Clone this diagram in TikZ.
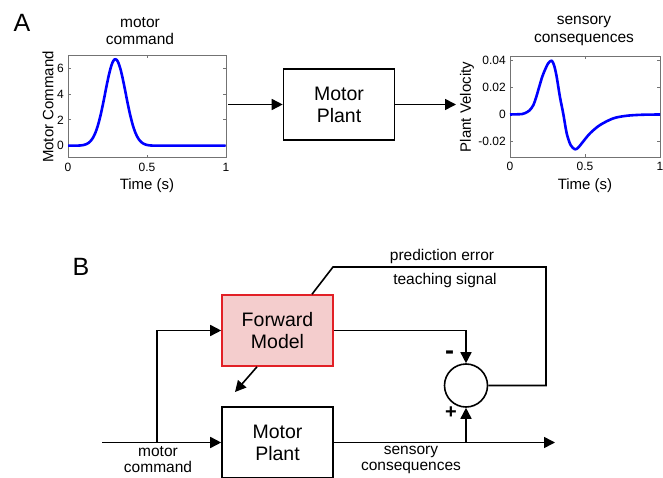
\documentclass[tikz,border=0pt]{standalone}
\usepackage{fontspec}
\setmainfont{Liberation Sans}
\usetikzlibrary{arrows.meta,positioning,calc}

\definecolor{fwdred}{RGB}{226,32,38}
\definecolor{fwdpink}{RGB}{244,205,205}

\tikzset{
    blk/.style={draw, line width=1.6pt, minimum width=111pt, minimum height=71pt,
        inner sep=0pt, align=center, font=\fontsize{19.5}{22}\selectfont},
    fwdblk/.style={blk, draw=fwdred, fill=fwdpink},
    sig/.style={line width=1.6pt},
    arr/.style={sig, -{Triangle[length=11pt,width=11pt]}},
    frame/.style={draw=black!55, line width=0.8pt},
    curve/.style={blue, line width=2.6pt, line join=round},
    ticklbl/.style={font=\fontsize{12}{14}\selectfont, inner sep=1pt},
    axlbl/.style={font=\fontsize{15}{17}\selectfont},
    ttl/.style={align=center, font=\fontsize{15.5}{17.5}\selectfont},
    lbl/.style={align=center, font=\fontsize{15.5}{16}\selectfont},
    sgn/.style={font=\fontsize{20}{22}\selectfont\bfseries, inner sep=0pt},
    panel/.style={font=\fontsize{25}{28}\selectfont},
}

\begin{document}
\begin{tikzpicture}[x=1pt, y=1pt]
    \useasboundingbox (0,0) rectangle (663,477);

    % ==================== A: 上半部分 ====================
    \node[panel] (labA) at (22,454) {A};

    % 左图: motor command
    \begin{scope}[shift={(68,331.3)}, x=158pt, y=12.9pt]
        \draw[frame] (0,-0.92) rectangle (1,7);
        \foreach \t in {0,0.5,1} {
            \draw[frame] (\t,-0.92) -- ++(0,3pt);
            \draw[frame] (\t,7) -- ++(0,-3pt);
            \node[ticklbl, below=4pt] (xl\t) at (\t,-0.92) {\t};
        }
        \foreach \v in {0,2,4,6} {
            \draw[frame] (0,\v) -- ++(3pt,0);
            \draw[frame] (1,\v) -- ++(-3pt,0);
            \node[ticklbl, left=3pt] (yl\v) at (0,\v) {\v};
        }
        \draw[curve] plot[domain=0:1, samples=150] (\x, {6.7*exp(-(\x-0.3)^2/0.00845)});
    \end{scope}
    \node[ttl] (ttlL) at (140,446) {motor\\command};
    \node[axlbl] (timeL) at (147,291) {Time (s)};
    \node[axlbl, rotate=90] (cmdL) at (48,370) {Motor Command};

    % 中间: Motor Plant 方框
    \node[blk] (plantA) at (339,372.5) {Motor\\Plant};
    \coordinate (inA) at (228,372.5);
    \coordinate (outA) at (456,372.5);
    \draw[arr] (inA) -- (plantA);
    \draw[arr] (plantA) -- (outA);

    % 右图: sensory consequences
    \begin{scope}[shift={(510,362.5)}, x=150pt, y=1350pt]
        \draw[frame] (0,-0.0317) rectangle (1,0.0433);
        \foreach \t in {0,0.5,1} {
            \draw[frame] (\t,-0.0317) -- ++(0,3pt);
            \draw[frame] (\t,0.0433) -- ++(0,-3pt);
            \node[ticklbl, below=4pt] (xr\t) at (\t,-0.0317) {\t};
        }
        \foreach \v in {0.04,0.02,0,-0.02} {
            \draw[frame] (0,\v) -- ++(3pt,0);
            \draw[frame] (1,\v) -- ++(-3pt,0);
            \node[ticklbl, left=3pt] (yr\v) at (0,\v) {\v};
        }
        \draw[curve] plot[smooth] coordinates {
            (0,0) (0.08,0.0003) (0.1,0.001) (0.13,0.003) (0.156,0.007) (0.175,0.013)
            (0.195,0.0206) (0.215,0.028) (0.233,0.033) (0.255,0.038) (0.278,0.0399)
            (0.295,0.036) (0.311,0.028) (0.333,0.013) (0.356,0) (0.378,-0.014)
            (0.404,-0.0226) (0.433,-0.0258) (0.455,-0.0245) (0.478,-0.0214)
            (0.533,-0.014) (0.6,-0.0078) (0.69,-0.0028) (0.78,-0.0009) (0.88,-0.0002) (1,0)};
    \end{scope}
    \node[ttl] (ttlR) at (584,446) {sensory\\consequences};
    \node[axlbl] (timeR) at (585,291) {Time (s)};
    \node[axlbl, rotate=90] (velR) at (467,370) {Plant Velocity};

    % ==================== B: 下半部分 ====================
    \node[panel] (labB) at (81,210) {B};

    \node[fwdblk] (fwd) at (277.5,146.5) {Forward\\Model};
    \node[blk] (plantB) at (277.5,34.5) {Motor\\Plant};
    \node[draw, circle, line width=1.6pt, minimum size=43pt, inner sep=0pt] (sum) at (466,91.5) {};

    \coordinate (inB) at (102,34.5);
    \coordinate (split) at (157,34.5);
    \coordinate (tap) at (466,34.5);
    \coordinate (outB) at (555,34.5);
    \coordinate (fmTip) at (235,85);
    \coordinate (fbR) at (546,210);
    \coordinate (fbL) at (333,210);

    % 输入 motor command, 分叉到 Forward Model
    \draw[arr] (inB) -- (plantB.west);
    \draw[arr] (split) |- (fwd.west);
    % Forward Model -> Motor Plant (斜箭头)
    \draw[arr] ([xshift=-20.5pt]fwd.south) -- (fmTip);
    % 预测 -> 比较器
    \draw[arr] (fwd.east) -| (sum.north);
    % 输出 sensory consequences
    \draw[arr] (plantB.east) -- (outB);
    \draw[arr] (tap) -- (sum.south);
    % 误差回到 Forward Model
    \draw[sig] (sum.east) -| (fbR) -- (fbL) -- ([xshift=34.5pt]fwd.north);

    \node[sgn, font=\fontsize{27}{28}\selectfont\bfseries] (minus) at (449.5,122) {-};
    \node[sgn] (plus) at (451,64) {+};
    \node[lbl, anchor=base] (pe) at (442,216.3) {prediction error};
    \node[lbl, anchor=base] (ts) at (445,193) {teaching signal};
    \node[lbl] (mcB) at (158,17) {motor\\command};
    \node[lbl] (scB) at (411,17) {sensory\\consequences};

\end{tikzpicture}
\end{document}
